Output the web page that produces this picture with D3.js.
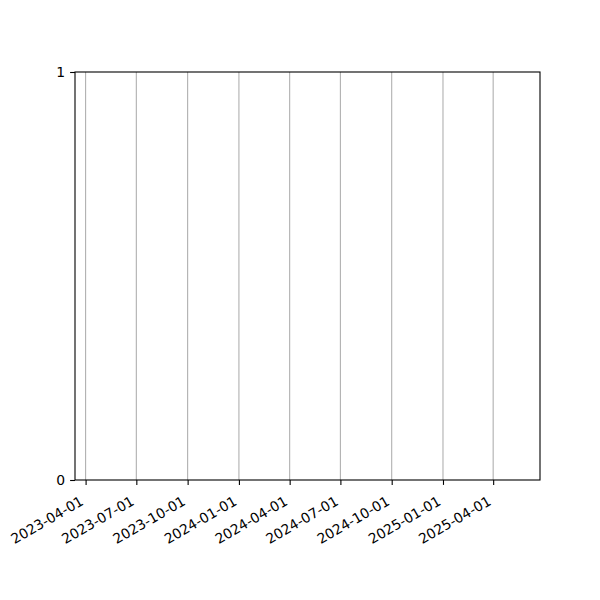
<!DOCTYPE html>
<html>
<head>
  <meta charset='utf-8'>
  <title>Empty date axis</title>
  <script src='https://cdn.jsdelivr.net/npm/d3@7/dist/d3.min.js'></script>
  <style>
    body { margin: 0; background: #fff; }
    svg text { font-family: 'DejaVu Sans', sans-serif; font-size: 13.9px; fill: #000; }
  </style>
</head>
<body>
  <svg id='plot-area' width='600' height='600'></svg>
  <script>
    // x range of the (empty) data, with the axis padding already included
    const xDomain = ['2023-03-13', '2025-06-24'];
    const xTicks = ['2023-04-01', '2023-07-01', '2023-10-01', '2024-01-01', '2024-04-01',
                    '2024-07-01', '2024-10-01', '2025-01-01', '2025-04-01'];
    const yDomain = [0, 1];
    const yTicks = [0, 1];

    const margin = { top: 72, right: 60, bottom: 120, left: 75 };
    const svg = d3.select('#plot-area');
    const width = 600 - margin.left - margin.right;
    const height = 600 - margin.top - margin.bottom;
    const g = svg.append('g')
        .attr('transform', `translate(${margin.left}, ${margin.top})`);

    const parseDate = d3.timeParse('%Y-%m-%d');
    const scaleX = d3.scaleTime()
        .domain(xDomain.map(parseDate))
        .range([0, width]);
    const scaleY = d3.scaleLinear()
        .domain(yDomain)
        .range([height, 0]);

    // vertical grid at the date ticks
    g.append('g')
        .selectAll('line')
        .data(xTicks)
        .join('line')
        .attr('x1', (d) => scaleX(parseDate(d)))
        .attr('x2', (d) => scaleX(parseDate(d)))
        .attr('y1', 0)
        .attr('y2', height)
        .attr('stroke', '#b0b0b0')
        .attr('stroke-width', 1.1);

    // x axis, labels rotated like autofmt_xdate
    const xAxis = g.append('g')
        .attr('transform', `translate(0, ${height})`)
        .call(d3.axisBottom(scaleX)
            .tickValues(xTicks.map(parseDate))
            .tickFormat(d3.timeFormat('%Y-%m-%d'))
            .tickSize(4.9)
            .tickSizeOuter(0));
    xAxis.select('.domain').remove();
    xAxis.selectAll('.tick line').attr('stroke', '#000').attr('stroke-width', 1.1);
    xAxis.selectAll('.tick text')
        .attr('font-family', null)
        .attr('font-size', null)
        .attr('text-anchor', 'end')
        .attr('x', -1.6)
        .attr('y', 24)
        .attr('dy', null)
        .attr('transform', 'rotate(-30, -1.6, 24)');

    // y axis
    const yAxis = g.append('g')
        .call(d3.axisLeft(scaleY)
            .tickValues(yTicks)
            .tickFormat(d3.format('d'))
            .tickSize(4.9)
            .tickSizeOuter(0)
            .tickPadding(4.9));
    yAxis.select('.domain').remove();
    yAxis.selectAll('.tick line').attr('stroke', '#000').attr('stroke-width', 1.1);
    yAxis.selectAll('.tick text')
        .attr('font-family', null)
        .attr('font-size', null);

    // frame
    g.append('rect')
        .attr('x', 0)
        .attr('y', 0)
        .attr('width', width)
        .attr('height', height)
        .attr('fill', 'none')
        .attr('stroke', '#000')
        .attr('stroke-width', 1.1);
  </script>
</body>
</html>
